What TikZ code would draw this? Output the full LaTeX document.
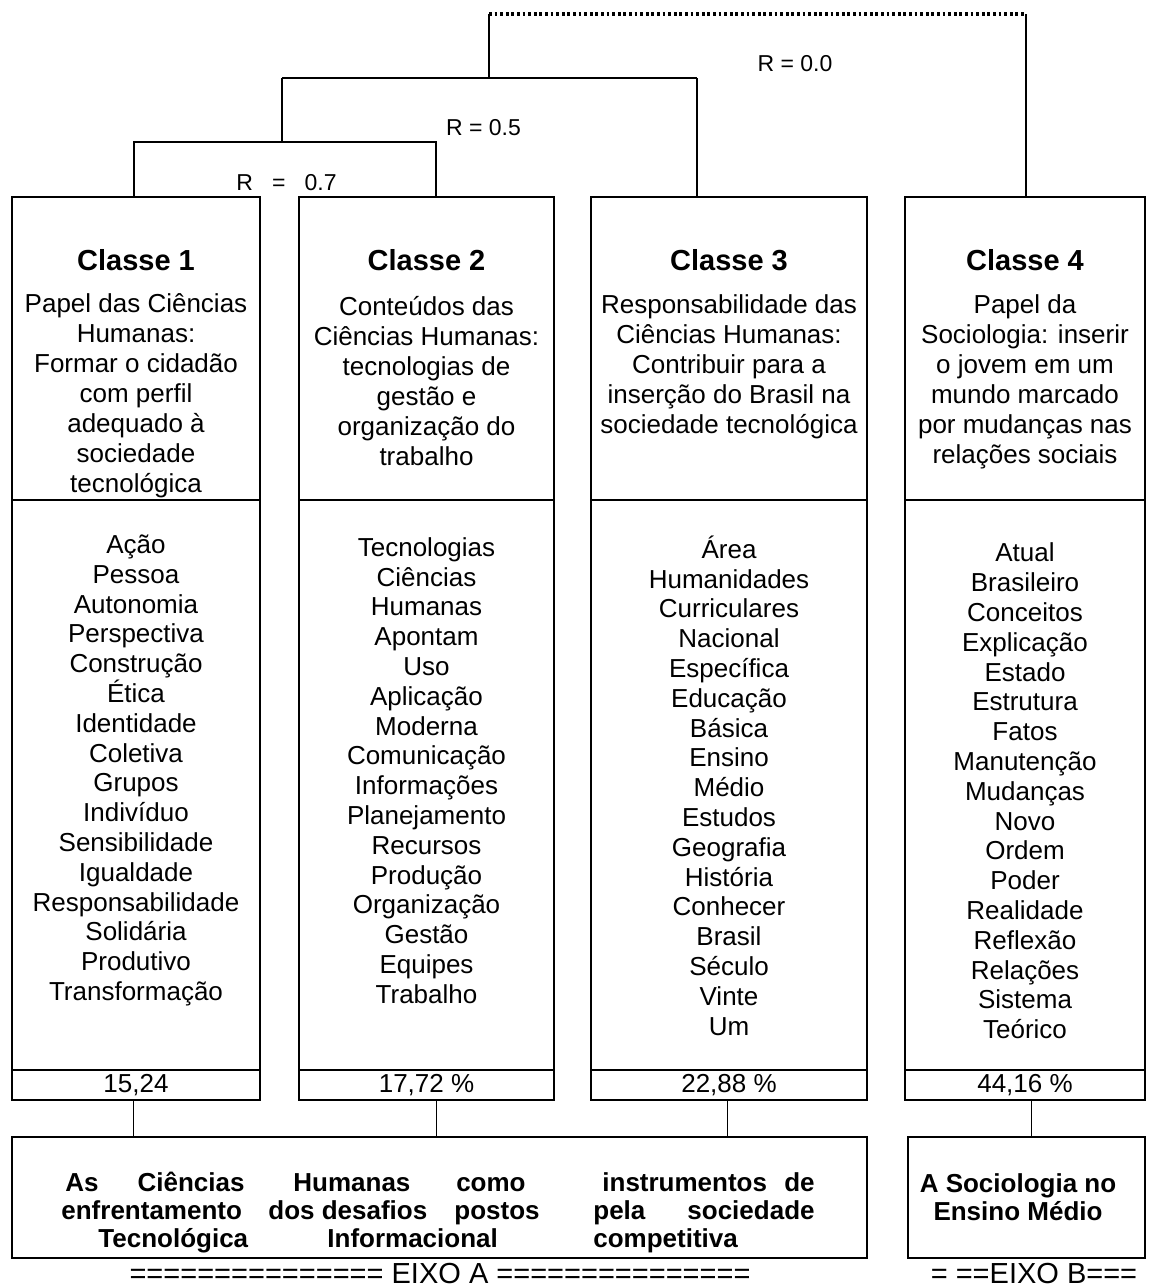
\documentclass[tikz,border=0pt]{standalone}
\usepackage{fontspec}
\setmainfont{Liberation Sans}
\begin{document}
\begin{tikzpicture}[x=0.5pt,y=-0.5pt,
  frame/.style={draw,line width=0.9pt},
  classbox/.style={frame,minimum height=451.5pt,inner sep=0pt},
  body/.style={font=\fontsize{13}{15}\selectfont,align=center,inner sep=0pt},
  title/.style={font=\bfseries\fontsize{14.5}{16}\selectfont,inner sep=0pt},
  words/.style={font=\fontsize{13}{14.9}\selectfont,align=center,inner sep=0pt},
  rlabel/.style={font=\fontsize{11.5}{13}\selectfont,inner sep=0pt},
  axistext/.style={font=\fontsize{14.5}{16}\selectfont,inner sep=0pt,anchor=base},
  boldtext/.style={font=\bfseries\fontsize{13}{14}\selectfont,inner sep=0pt},
  tree/.style={line width=0.55pt},
  treethick/.style={line width=1pt},
  dots/.style={line width=1.8pt,dash pattern=on 1.4pt off 1.4pt},
  link/.style={line width=0.5pt}]
\useasboundingbox (0,0) rectangle (1149,1287);
\fill[white] (0,0) rectangle (1149,1287);

% class columns
\node[classbox,minimum width=124pt]   (c1) at (136,648.5)   {};
\node[classbox,minimum width=127.5pt] (c2) at (426.5,648.5) {};
\node[classbox,minimum width=138pt]   (c3) at (729,648.5)   {};
\node[classbox,minimum width=120pt]   (c4) at (1025,648.5)  {};
\foreach \c in {c1,c2,c3,c4}{
  \draw[frame] (\c.west |- 0,500) -- (\c.east |- 0,500);
  \draw[frame] (\c.west |- 0,1070) -- (\c.east |- 0,1070);
}

% headings
\node[title] (t1) at (136,260)   {Classe 1};
\node[title] (t2) at (426.5,260) {Classe 2};
\node[title] (t3) at (729,260)   {Classe 3};
\node[title] (t4) at (1025,260)  {Classe 4};

\node[body] (d1) at (136,396) {Papel das Ciências\\Humanas:\\Formar o cidadão\\com perfil\\adequado à\\sociedade\\tecnológica};
\node[body] (d2) at (426.5,381) {Conteúdos das\\Ciências Humanas:\\tecnologias de\\gestão e\\organização do\\trabalho};
\node[body] (d3) at (729,367) {Responsabilidade das\\Ciências Humanas:\hspace*{16pt}\\Contribuir para a\\inserção do Brasil na\\sociedade tecnológica};
\node[body] (d4) at (1025,382) {Papel da\\Sociologia: inserir\\o jovem em um\\mundo marcado\\por mudanças nas\\relações sociais};

% word lists
\node[words] (w1) at (136,770.5) {Ação\\Pessoa\\Autonomia\\Perspectiva\\Construção\\Ética\\Identidade\\Coletiva\\Grupos\\Indivíduo\\Sensibilidade\\Igualdade\\Responsabilidade\\Solidária\\Produtivo\\Transformação};
\node[words] (w2) at (426.5,770.5) {Tecnologias\\Ciências\\Humanas\\Apontam\\Uso\\Aplicação\\Moderna\\Comunicação\\Informações\\Planejamento\\Recursos\\Produção\\Organização\\Gestão\\Equipes\\Trabalho};
\node[words] (w3) at (729,785.5) {Área\\Humanidades\\Curriculares\\Nacional\\Específica\\Educação\\Básica\\Ensino\\Médio\\Estudos\\Geografia\\História\\Conhecer\\Brasil\\Século\\Vinte\\Um};
\node[words] (w4) at (1025,791) {Atual\\Brasileiro\\Conceitos\\Explicação\\Estado\\Estrutura\\Fatos\\Manutenção\\Mudanças\\Novo\\Ordem\\Poder\\Realidade\\Reflexão\\Relações\\Sistema\\Teórico};

% percentages
\node[body] (n1) at (136,1085)   {15,24};
\node[body] (n2) at (426.5,1085) {17,72 \%};
\node[body] (n3) at (729,1085)   {22,88 \%};
\node[body] (n4) at (1025,1085)  {44,16 \%};

% dendrogram
\draw[tree] (c1.north -| 134,0) -- (134,142) -- (436,142) -- (c2.north -| 436,0);
\draw[tree] (282,142) -- (282,78);
\draw[treethick] (282,78) -- (697,78);
\draw[tree] (697,78) -- (c3.north -| 697,0);
\draw[tree] (489,78) -- (489,14);
\draw[dots] (489,14) -- (1026,14);
\draw[tree] (1026,14) -- (c4.north -| 1026,0);

\node[rlabel] (r0) at (795,64)    {R = 0.0};
\node[rlabel] (r5) at (483.5,128) {R = 0.5};
\node[rlabel] (r7) at (286.5,183) {R\ \ \ =\ \ \ 0.7};

% axes
\node[frame,minimum width=427.5pt,minimum height=60.5pt,inner sep=0pt] (axA) at (439.5,1197.5) {};
\node[frame,minimum width=118.5pt,minimum height=60.5pt,inner sep=0pt] (axB) at (1026.5,1197.5) {};

\draw[link] (c1.south -| 133,0)  -- (axA.north -| 133,0);
\draw[link] (c2.south -| 436,0)  -- (axA.north -| 436,0);
\draw[link] (c3.south -| 727,0)  -- (axA.north -| 727,0);
\draw[link] (c4.south -| 1031,0) -- (axB.north -| 1031,0);

\node[boldtext,anchor=base west] (a1)  at (65,1191)  {As};
\node[boldtext,anchor=base east] (a2)  at (245,1191) {Ciências};
\node[boldtext,anchor=base west] (a3)  at (293,1191) {Humanas};
\node[boldtext,anchor=base east] (a4)  at (526,1191) {como};
\node[boldtext,anchor=base west] (a5)  at (602,1191) {instrumentos};
\node[boldtext,anchor=base east] (a6)  at (815,1191) {de};
\node[boldtext,anchor=base west] (a7)  at (61,1219)  {enfrentamento};
\node[boldtext,anchor=base west] (a8)  at (268,1219) {dos desafios};
\node[boldtext,anchor=base east] (a9)  at (540,1219) {postos};
\node[boldtext,anchor=base west] (a10) at (593,1219) {pela};
\node[boldtext,anchor=base east] (a11) at (815,1219) {sociedade};
\node[boldtext,anchor=base west] (a12) at (98,1247)  {Tecnológica};
\node[boldtext,anchor=base west] (a13) at (327,1247) {Informacional};
\node[boldtext,anchor=base west] (a14) at (593,1247) {competitiva};

\node[boldtext,align=center] (sb) at (1018,1197) {A Sociologia no\\Ensino Médio};

\node[axistext] (ea) at (440,1283)  {=============== EIXO A ===============};
\node[axistext] (eb) at (1034,1283) {= ==EIXO B===};
\end{tikzpicture}
\end{document}
